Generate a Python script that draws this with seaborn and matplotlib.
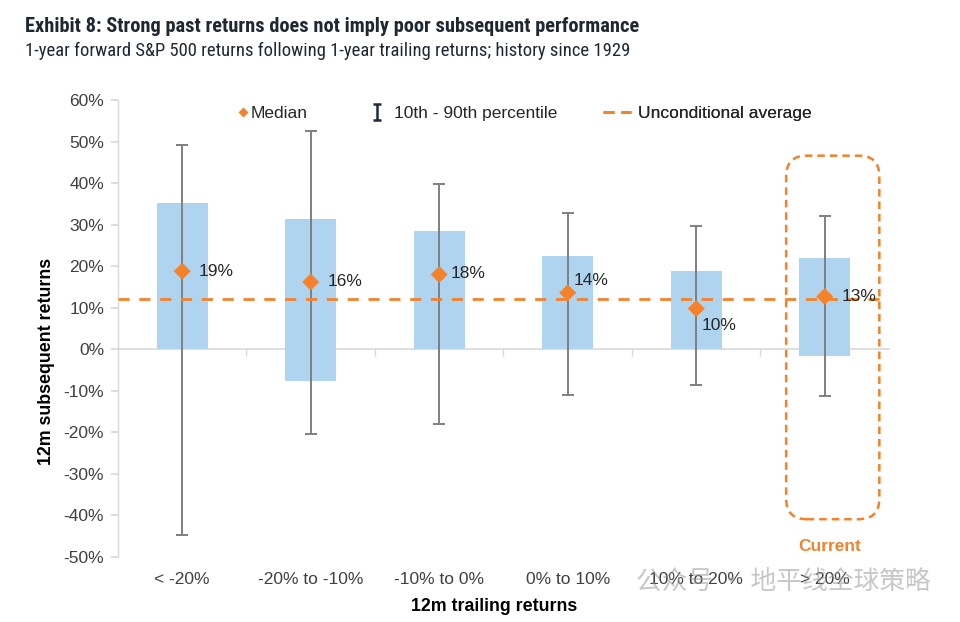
import numpy as np
import pandas as pd
import matplotlib
matplotlib.use("Agg")
import matplotlib.pyplot as plt
import seaborn as sns
from matplotlib.lines import Line2D
from matplotlib.path import Path
from matplotlib.patches import FancyBboxPatch
from matplotlib.ticker import FuncFormatter

# values (percent)
categories = ["< -20%", "-20% to -10%", "-10% to 0%", "0% to 10%", "10% to 20%", "> 20%"]
bar_low = [0.0, -7.6, 0.0, 0.0, 0.0, -1.7]
bar_high = [35.2, 31.4, 28.5, 22.5, 18.8, 21.9]
p10 = [-44.7, -20.3, -17.9, -10.9, -8.7, -11.3]
p90 = [49.2, 52.6, 39.9, 32.8, 29.6, 32.2]
median = [18.8, 16.2, 18.0, 13.6, 9.8, 12.7]
median_labels = ["19%", "16%", "18%", "14%", "10%", "13%"]
uncond_avg = 12.0

# label offsets in points (x, y)
label_offsets = [(12, 0), (12, 0), (8, 1), (4, 9), (4, -12), (12, 0)]

sns.set_theme(style="white")
plt.rcParams["font.family"] = ["Liberation Sans", "DejaVu Sans"]

BLUE = "#afd4f0"
ORANGE = "#f5822a"
GREY = "#7f7f7f"
TXT = "#404040"
FS = 12.5

df = pd.DataFrame({"cat": categories, "low": bar_low, "high": bar_high,
                   "p10": p10, "p90": p90, "median": median})
df["x"] = np.arange(len(df))

fig = plt.figure(figsize=(9.6, 6.22), dpi=100)
ax = fig.add_axes([0.1229, 0.1045, 0.8031, 0.7347])

ax.bar(df["x"], df["high"] - df["low"], bottom=df["low"], width=0.4,
       color=BLUE, edgecolor="none", zorder=1)

ax.errorbar(df["x"], df["median"],
            yerr=[df["median"] - df["p10"], df["p90"] - df["median"]],
            fmt="none", ecolor=GREY, elinewidth=1.4, capsize=4, capthick=1.4, zorder=2)

ax.axhline(uncond_avg, color=ORANGE, lw=2, ls=(0, (4, 3.5)), zorder=3)

sns.scatterplot(data=df, x="x", y="median", marker="D", s=75, color=ORANGE,
                edgecolor="none", ax=ax, zorder=4, legend=False)

for i, row in df.iterrows():
    ax.annotate(median_labels[i], (row["x"], row["median"]), xytext=label_offsets[i],
                textcoords="offset points", ha="left", va="center",
                fontsize=FS, color="#262626")

ax.set_xlim(-0.5, len(categories) - 0.5)
ax.set_ylim(-50, 60)
ax.set_yticks(np.arange(-50, 61, 10))
ax.yaxis.set_major_formatter(FuncFormatter(lambda v, p: f"{v:.0f}%"))
ax.tick_params(axis="y", which="both", left=True, length=5, color="#d9d9d9",
               labelsize=FS, labelcolor=TXT, pad=5)

ax.set_xticks(df["x"])
ax.set_xticklabels(categories)
ax.tick_params(axis="x", length=0, labelsize=FS, labelcolor=TXT, pad=11)

for s in ["top", "right", "bottom"]:
    ax.spines[s].set_visible(False)
ax.spines["left"].set_color("#d9d9d9")
ax.spines["left"].set_linewidth(1)

# zero line with ticks between categories
zero_loc = (0 - (-50)) / (60 - (-50))
sec = ax.secondary_xaxis(zero_loc)
sec.set_xticks(np.arange(0.5, len(categories) - 1, 1.0))
sec.set_xticklabels([])
sec.tick_params(length=5, color="#d9d9d9", width=1)
sec.spines["bottom"].set_color("#d9d9d9")
sec.spines["bottom"].set_linewidth(1.2)

ax.set_ylabel("12m subsequent returns", fontsize=12.8, fontweight="bold", color="black")
ax.yaxis.set_label_coords(-0.0817, 0.427)
ax.set_xlabel("12m trailing returns", fontsize=12.8, fontweight="bold", color="black")
ax.xaxis.set_label_coords(0.488, -0.089)

# "current" highlight box, rounded corners corrected for axis aspect
fig.canvas.draw()
px_x = ax.transData.transform([(0, 0), (1, 0)])
px_y = ax.transData.transform([(0, 0), (0, 1)])
aspect = (px_x[1, 0] - px_x[0, 0]) / (px_y[1, 1] - px_y[0, 1])
box = FancyBboxPatch((4.70, -40.9), 0.725, 87.5,
                     boxstyle="round,pad=0,rounding_size=0.16",
                     mutation_aspect=aspect, fill=False, edgecolor=ORANGE,
                     lw=1.8, ls=(0, (3, 2)), zorder=5, clip_on=False)
ax.add_patch(box)
ax.text(5.04, -47.5, "Current", color=ORANGE, fontsize=12.5, fontweight="bold",
        ha="center", va="center")

# legend: three pieces so each handle gets its own length
ibeam = Path([(-0.45, 1), (0.45, 1), (0, 1), (0, -1), (-0.45, -1), (0.45, -1)],
             [Path.MOVETO, Path.LINETO, Path.MOVETO, Path.LINETO, Path.MOVETO, Path.LINETO])
legend_items = [
    (Line2D([], [], ls="none", marker="D", ms=5.5, color=ORANGE, mec="none"),
     "Median", 238, 0.6, 0.15),
    (Line2D([], [], ls="none", marker=ibeam, ms=12, mfc="none", mec="#1f2a44", mew=1.8),
     "10th - 90th percentile", 370, 0.8, 0.6),
    (Line2D([], [], ls=(0, (4, 2.4)), lw=2, color=ORANGE),
     "Unconditional average", 603, 1.6, 0.4),
]
leg_y = (557 - 113) / 457
for handle, label, x0, hl, tp in legend_items:
    leg = ax.legend([handle], [label], loc="center left",
                    bbox_to_anchor=((x0 - 118) / 771, leg_y), frameon=False,
                    fontsize=FS, handlelength=hl, handletextpad=tp, borderpad=0,
                    borderaxespad=0, labelcolor="#262626")
    ax.add_artist(leg)


def fit_text(t, target_px):
    r = fig.canvas.get_renderer()
    w = t.get_window_extent(r).width
    t.set_fontsize(t.get_fontsize() * target_px / w)


title_fonts = ["Roboto Condensed", "Liberation Sans Narrow", "Roboto", "DejaVu Sans"]
t1 = fig.text(0.026, 0.958, "Exhibit 8: Strong past returns does not imply poor subsequent performance",
              fontsize=13.5, fontweight="bold", color="#1f2733", ha="left", va="center",
              family=title_fonts)
t2 = fig.text(0.026, 0.918, "1-year forward S&P 500 returns following 1-year trailing returns; history since 1929",
              fontsize=12.5, color="#1f2733", ha="left", va="center", family=title_fonts)
fit_text(t1, 612)
fit_text(t2, 608)

# watermark
fig.text(0.6625, 0.063, "公众号 · 地平线全球策略", fontsize=18.5, color="#9a9a9a", alpha=0.55,
         ha="left", va="center", family=["Noto Sans CJK SC", "DejaVu Sans"])

fig.savefig("out.png", dpi=100)
